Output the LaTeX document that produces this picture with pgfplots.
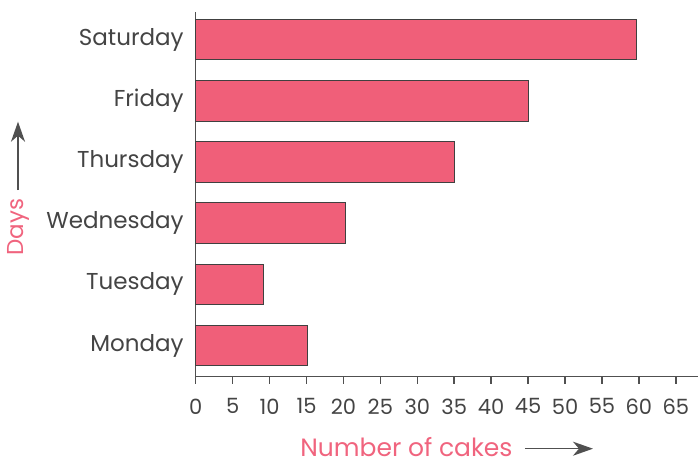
\documentclass[border=0pt]{standalone}
\usepackage{fontspec}
\setmainfont{Poppins}
\usepackage{pgfplots}
\pgfplotsset{compat=1.18}
\usetikzlibrary{arrows.meta}
\definecolor{barpink}{HTML}{F05F79}
\definecolor{labpink}{HTML}{F0647E}
\definecolor{txt}{HTML}{444444}
\definecolor{axisgray}{HTML}{505050}
\definecolor{bardraw}{HTML}{404040}
\begin{document}
\begin{tikzpicture}
\path[use as bounding box] (-97.85pt,-42.65pt) rectangle (251.15pt,188.35pt);
\begin{axis}[
  scale only axis, width=251.15pt, height=182.35pt,
  xbar, bar width=20.25pt,
  xmin=0, xmax=68, ymin=-0.507, ymax=5.45,
  axis lines*=left,
  ytick={0,1,2,3,4,5},
  yticklabels={Monday,Tuesday,Wednesday,Thursday,Friday,Saturday},
  ytick style={draw=none},
  xtick={0,5,...,65},
  xtick pos=bottom, tick align=outside, major tick length=3.5pt,
  x tick style={color=axisgray, line width=0.75pt},
  axis line style={color=axisgray, line width=0.75pt},
  tick label style={text=txt},
  xticklabel style={font=\fontsize{10.5}{12}\selectfont, yshift=-4pt},
  yticklabel style={font=\fontsize{11.5}{13}\selectfont, xshift=1pt},
  /pgf/number format/assume math mode=true,
  clip=false,
]
\addplot[fill=barpink, draw=bardraw, line width=0.5pt] coordinates {(15.2,0) (9.2,1) (20.3,2) (35,3) (45,4) (59.7,5)};
\end{axis}
\node[rotate=90, text=labpink, font=\fontsize{11.5}{13}\selectfont] at (-88.85pt,74.85pt) {Days};
\draw[-{Stealth[length=10pt,width=7pt,inset=3pt]}, color=axisgray, line width=0.75pt] (-88.85pt,93.35pt) -- (-88.85pt,127.5pt);
\node[anchor=base west, text=labpink, font=\fontsize{12.5}{14}\selectfont, inner sep=0pt] at (52.15pt,-40pt) {Number of cakes};
\draw[-{Stealth[length=10pt,width=7pt,inset=3pt]}, color=axisgray, line width=0.75pt] (164.65pt,-36pt) -- (198.65pt,-36pt);
\end{tikzpicture}
\end{document}
